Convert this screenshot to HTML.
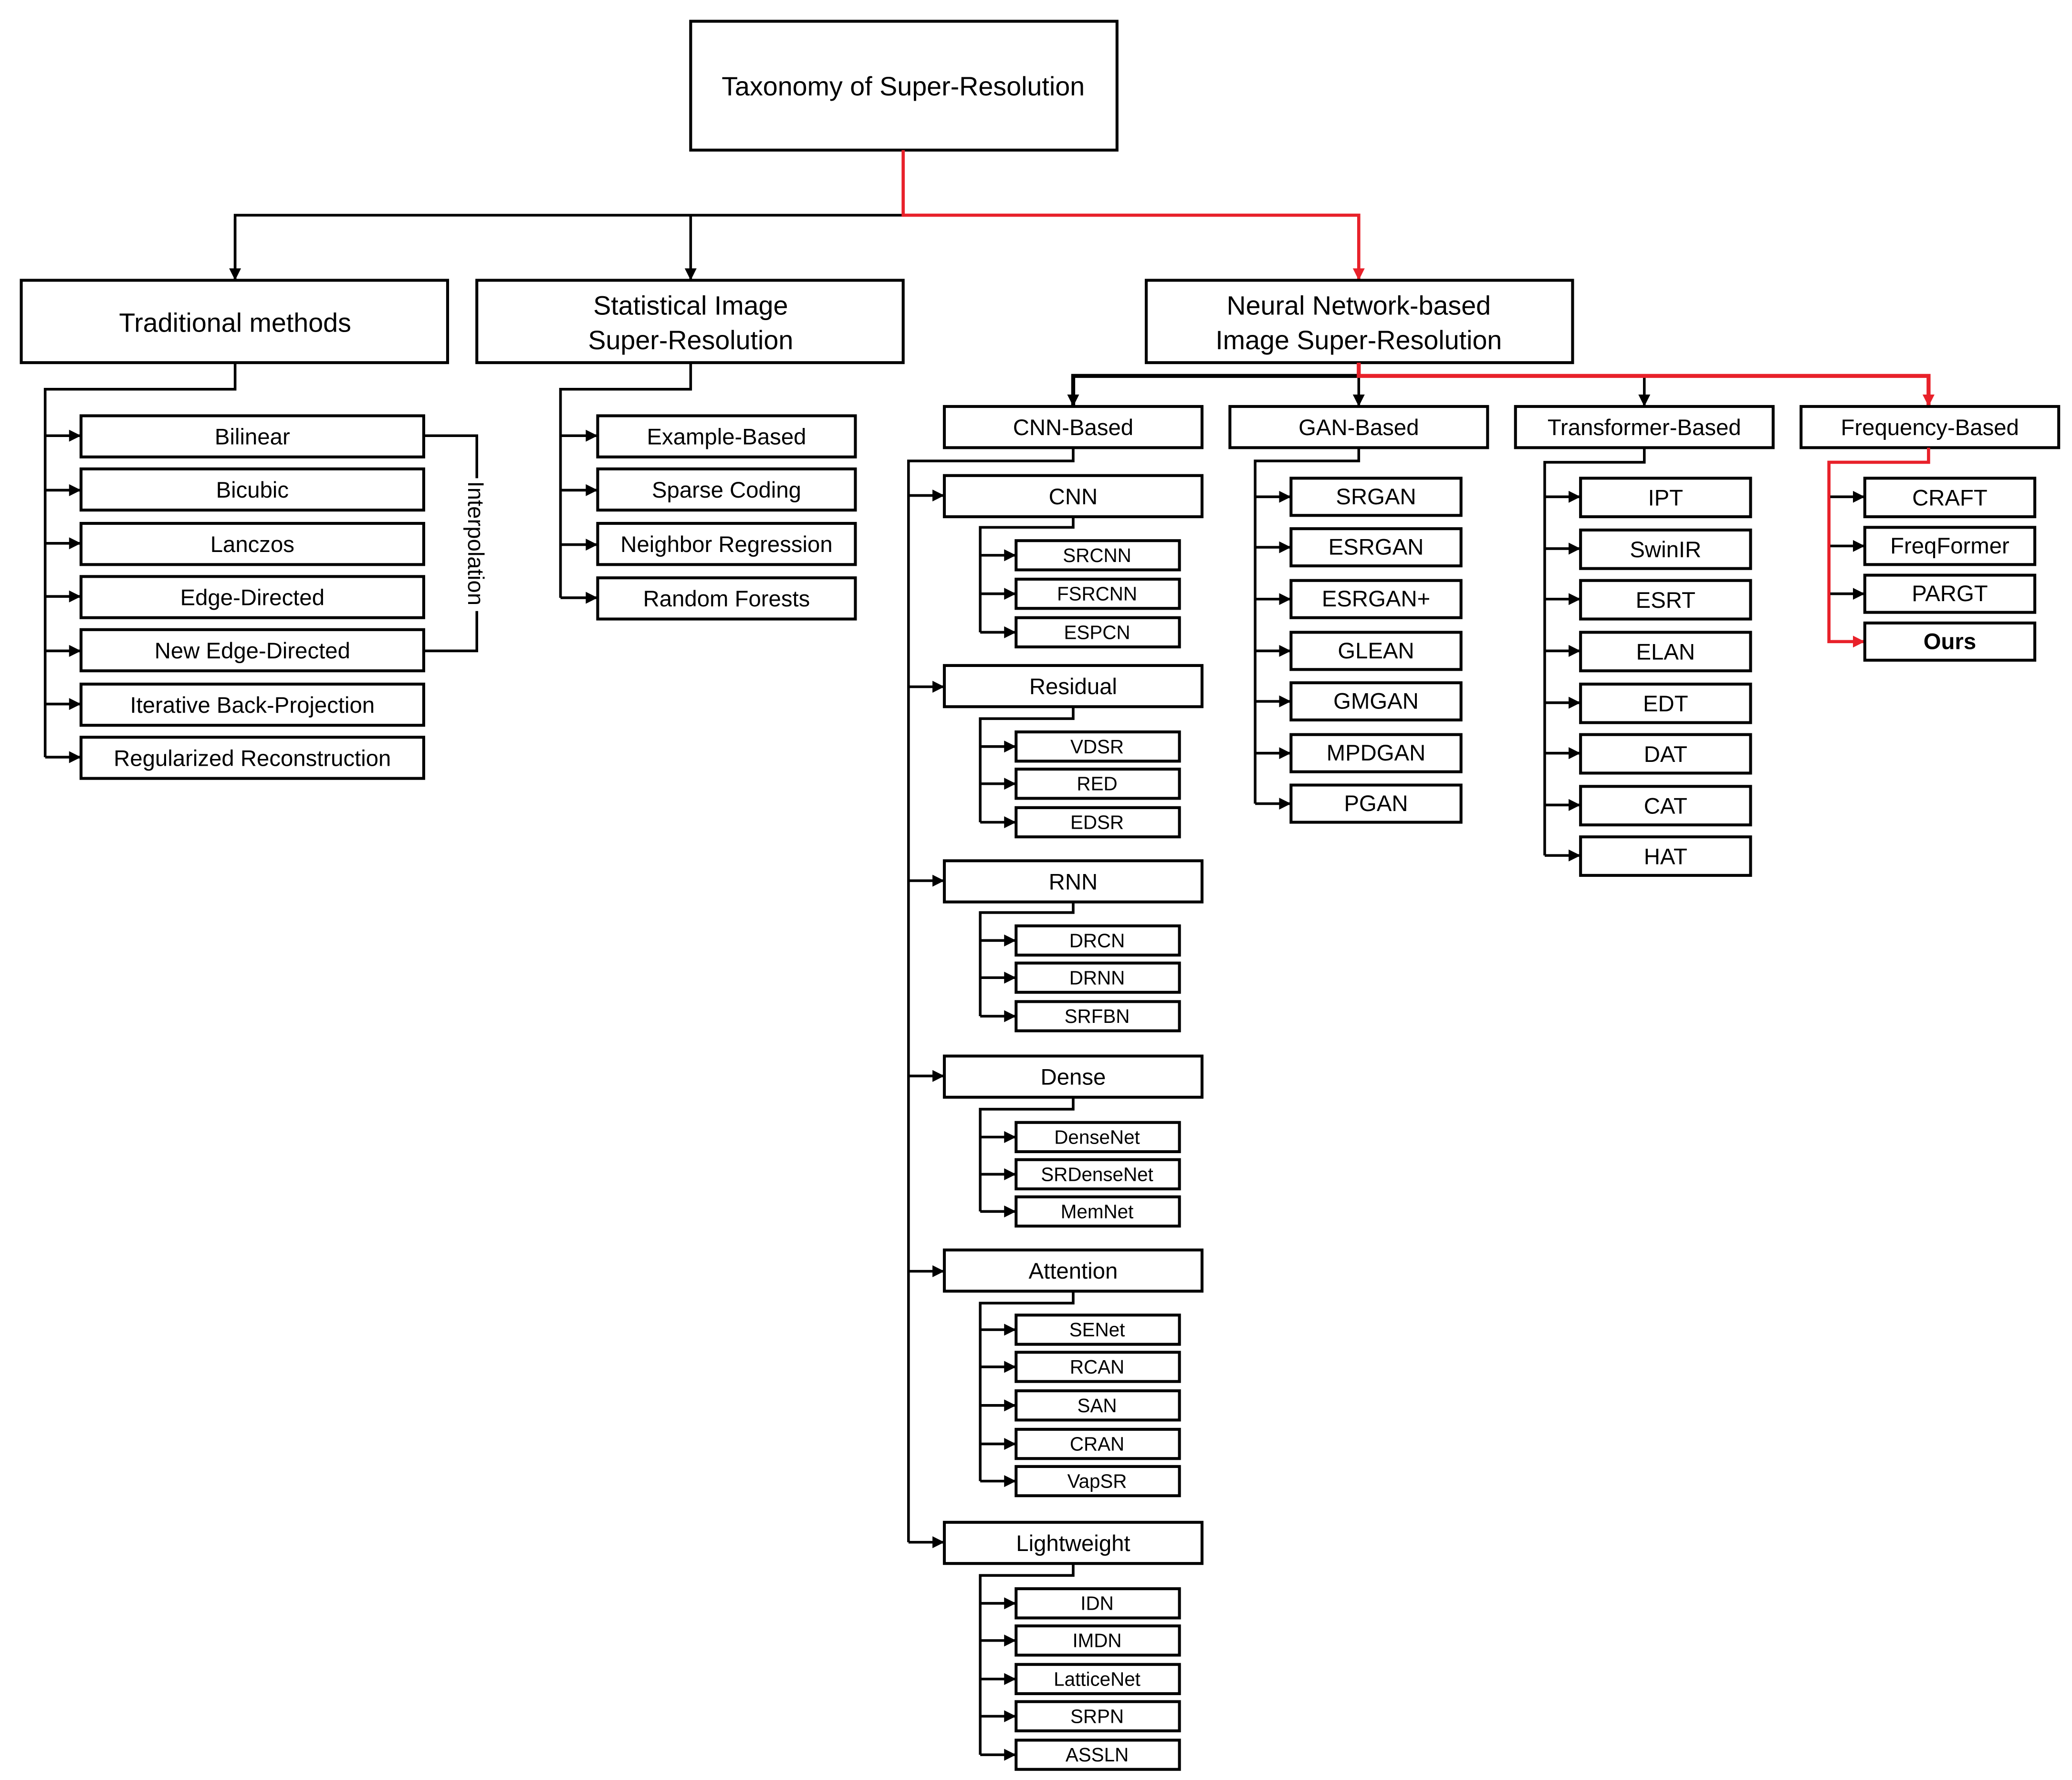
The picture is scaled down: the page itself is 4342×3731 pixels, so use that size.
<!DOCTYPE html>
<html><head><meta charset="utf-8"><style>
html,body{margin:0;padding:0;background:#fff}
svg{display:block}
text{font-family:"Liberation Sans",Arial,sans-serif;fill:#000;text-anchor:middle;dominant-baseline:central}
rect{fill:#fff;stroke:#000;stroke-width:2.2}
.l{fill:none;stroke:#000;stroke-width:2}
.r{fill:none;stroke:#e8212a;stroke-width:2.4}
.f20{font-size:20px}.f17{font-size:17px}.f14{font-size:14.5px}
</style></head><body>
<svg width="4342" height="3731" viewBox="0 0 1560 1340" preserveAspectRatio="none" xmlns="http://www.w3.org/2000/svg">
<defs>
<marker id="a" viewBox="0 0 10 10" refX="10" refY="5" markerWidth="9" markerHeight="9" markerUnits="userSpaceOnUse" orient="auto"><path d="M0,0L10,5L0,10z" fill="#000"/></marker>
<marker id="b" viewBox="0 0 10 10" refX="10" refY="5" markerWidth="9" markerHeight="9" markerUnits="userSpaceOnUse" orient="auto"><path d="M0,0L10,5L0,10z" fill="#e8212a"/></marker>
</defs>

<!-- top level -->
<rect x="520" y="16" width="321" height="97"/>
<text x="680" y="65" class="f20">Taxonomy of Super-Resolution</text>
<path class="l" d="M177,211V162H680"/>
<path class="l" d="M520,162V211" marker-end="url(#a)"/>
<path class="l" d="M177,165V211" marker-end="url(#a)"/>
<path class="r" d="M680,113V162H1023V211" marker-end="url(#b)"/>

<rect x="16" y="211" width="321" height="62"/>
<text x="177" y="243" class="f20">Traditional methods</text>
<rect x="359" y="211" width="321" height="62"/>
<text x="520" y="230" class="f20">Statistical Image</text>
<text x="520" y="256" class="f20">Super-Resolution</text>
<rect x="863" y="211" width="321" height="62"/>
<text x="1023" y="230" class="f20">Neural Network-based</text>
<text x="1023" y="256" class="f20">Image Super-Resolution</text>

<!-- traditional -->
<path class="l" d="M177,273V293H34V570"/>
<path class="l" d="M34,328H61" marker-end="url(#a)"/>
<path class="l" d="M34,369H61" marker-end="url(#a)"/>
<path class="l" d="M34,409H61" marker-end="url(#a)"/>
<path class="l" d="M34,449H61" marker-end="url(#a)"/>
<path class="l" d="M34,490H61" marker-end="url(#a)"/>
<path class="l" d="M34,530H61" marker-end="url(#a)"/>
<path class="l" d="M34,570H61" marker-end="url(#a)"/>
<path class="l" d="M319,328H359V490H319"/>
<rect x="61" y="313" width="258" height="31"/><text x="190" y="329" class="f17">Bilinear</text>
<rect x="61" y="353" width="258" height="31"/><text x="190" y="369" class="f17">Bicubic</text>
<rect x="61" y="394" width="258" height="31"/><text x="190" y="410" class="f17">Lanczos</text>
<rect x="61" y="434" width="258" height="31"/><text x="190" y="450" class="f17">Edge-Directed</text>
<rect x="61" y="474" width="258" height="31"/><text x="190" y="490" class="f17">New Edge-Directed</text>
<rect x="61" y="515" width="258" height="31"/><text x="190" y="531" class="f17">Iterative Back-Projection</text>
<rect x="61" y="555" width="258" height="31"/><text x="190" y="571" class="f17">Regularized Reconstruction</text>
<rect x="350" y="360" width="18" height="100" style="stroke:none"/>
<text x="358" y="409" class="f17" transform="rotate(90 358 409)">Interpolation</text>

<!-- statistical -->
<path class="l" d="M520,273V293H422V450"/>
<path class="l" d="M422,328H450" marker-end="url(#a)"/>
<path class="l" d="M422,369H450" marker-end="url(#a)"/>
<path class="l" d="M422,410H450" marker-end="url(#a)"/>
<path class="l" d="M422,450H450" marker-end="url(#a)"/>
<rect x="450" y="313" width="194" height="31"/><text x="547" y="329" class="f17">Example-Based</text>
<rect x="450" y="353" width="194" height="31"/><text x="547" y="369" class="f17">Sparse Coding</text>
<rect x="450" y="394" width="194" height="31"/><text x="547" y="410" class="f17">Neighbor Regression</text>
<rect x="450" y="435" width="194" height="31"/><text x="547" y="451" class="f17">Random Forests</text>

<!-- NN level 2 -->
<path class="l" style="stroke-width:3" d="M808,306V283H1023"/>
<path class="l" d="M808,290V306" marker-end="url(#a)"/>
<path class="l" d="M1023,283V306" marker-end="url(#a)"/>
<path class="l" d="M1238,283V306" marker-end="url(#a)"/>
<path class="r" style="stroke-width:3" d="M1023,273V283H1452V306" marker-end="url(#b)"/>
<rect x="711" y="306" width="194" height="31"/><text x="808" y="322" class="f17">CNN-Based</text>
<rect x="926" y="306" width="194" height="31"/><text x="1023" y="322" class="f17">GAN-Based</text>
<rect x="1141" y="306" width="194" height="31"/><text x="1238" y="322" class="f17">Transformer-Based</text>
<rect x="1356" y="306" width="194" height="31"/><text x="1453" y="322" class="f17">Frequency-Based</text>

<!-- CNN based -->
<path class="l" d="M808,337V347H684V1161"/>
<path class="l" d="M684,373H711" marker-end="url(#a)"/>
<path class="l" d="M684,517H711" marker-end="url(#a)"/>
<path class="l" d="M684,663H711" marker-end="url(#a)"/>
<path class="l" d="M684,810H711" marker-end="url(#a)"/>
<path class="l" d="M684,957H711" marker-end="url(#a)"/>
<path class="l" d="M684,1161H711" marker-end="url(#a)"/>
<rect x="711" y="358" width="194" height="31"/><text x="808" y="374" class="f17">CNN</text>
<rect x="711" y="501" width="194" height="31"/><text x="808" y="517" class="f17">Residual</text>
<rect x="711" y="648" width="194" height="31"/><text x="808" y="664" class="f17">RNN</text>
<rect x="711" y="795" width="194" height="31"/><text x="808" y="811" class="f17">Dense</text>
<rect x="711" y="941" width="194" height="31"/><text x="808" y="957" class="f17">Attention</text>
<rect x="711" y="1146" width="194" height="31"/><text x="808" y="1162" class="f17">Lightweight</text>

<!-- CNN children -->
<path class="l" d="M808,389V397H738V476"/>
<path class="l" d="M738,418H765" marker-end="url(#a)"/><path class="l" d="M738,447H765" marker-end="url(#a)"/><path class="l" d="M738,476H765" marker-end="url(#a)"/>
<rect x="765" y="407" width="123" height="22"/><text x="826" y="418" class="f14">SRCNN</text>
<rect x="765" y="436" width="123" height="22"/><text x="826" y="447" class="f14">FSRCNN</text>
<rect x="765" y="465" width="123" height="22"/><text x="826" y="476" class="f14">ESPCN</text>

<path class="l" d="M808,532V541H738V619"/>
<path class="l" d="M738,562H765" marker-end="url(#a)"/><path class="l" d="M738,590H765" marker-end="url(#a)"/><path class="l" d="M738,619H765" marker-end="url(#a)"/>
<rect x="765" y="551" width="123" height="22"/><text x="826" y="562" class="f14">VDSR</text>
<rect x="765" y="579" width="123" height="22"/><text x="826" y="590" class="f14">RED</text>
<rect x="765" y="608" width="123" height="22"/><text x="826" y="619" class="f14">EDSR</text>

<path class="l" d="M808,679V687H738V765"/>
<path class="l" d="M738,708H765" marker-end="url(#a)"/><path class="l" d="M738,736H765" marker-end="url(#a)"/><path class="l" d="M738,765H765" marker-end="url(#a)"/>
<rect x="765" y="697" width="123" height="22"/><text x="826" y="708" class="f14">DRCN</text>
<rect x="765" y="725" width="123" height="22"/><text x="826" y="736" class="f14">DRNN</text>
<rect x="765" y="754" width="123" height="22"/><text x="826" y="765" class="f14">SRFBN</text>

<path class="l" d="M808,826V835H738V912"/>
<path class="l" d="M738,856H765" marker-end="url(#a)"/><path class="l" d="M738,884H765" marker-end="url(#a)"/><path class="l" d="M738,912H765" marker-end="url(#a)"/>
<rect x="765" y="845" width="123" height="22"/><text x="826" y="856" class="f14">DenseNet</text>
<rect x="765" y="873" width="123" height="22"/><text x="826" y="884" class="f14">SRDenseNet</text>
<rect x="765" y="901" width="123" height="22"/><text x="826" y="912" class="f14">MemNet</text>

<path class="l" d="M808,972V981H738V1115"/>
<path class="l" d="M738,1001H765" marker-end="url(#a)"/><path class="l" d="M738,1029H765" marker-end="url(#a)"/><path class="l" d="M738,1058H765" marker-end="url(#a)"/><path class="l" d="M738,1087H765" marker-end="url(#a)"/><path class="l" d="M738,1115H765" marker-end="url(#a)"/>
<rect x="765" y="990" width="123" height="22"/><text x="826" y="1001" class="f14">SENet</text>
<rect x="765" y="1018" width="123" height="22"/><text x="826" y="1029" class="f14">RCAN</text>
<rect x="765" y="1047" width="123" height="22"/><text x="826" y="1058" class="f14">SAN</text>
<rect x="765" y="1076" width="123" height="22"/><text x="826" y="1087" class="f14">CRAN</text>
<rect x="765" y="1104" width="123" height="22"/><text x="826" y="1115" class="f14">VapSR</text>

<path class="l" d="M808,1177V1186H738V1321"/>
<path class="l" d="M738,1207H765" marker-end="url(#a)"/><path class="l" d="M738,1235H765" marker-end="url(#a)"/><path class="l" d="M738,1264H765" marker-end="url(#a)"/><path class="l" d="M738,1292H765" marker-end="url(#a)"/><path class="l" d="M738,1321H765" marker-end="url(#a)"/>
<rect x="765" y="1196" width="123" height="22"/><text x="826" y="1207" class="f14">IDN</text>
<rect x="765" y="1224" width="123" height="22"/><text x="826" y="1235" class="f14">IMDN</text>
<rect x="765" y="1253" width="123" height="22"/><text x="826" y="1264" class="f14">LatticeNet</text>
<rect x="765" y="1281" width="123" height="22"/><text x="826" y="1292" class="f14">SRPN</text>
<rect x="765" y="1310" width="123" height="22"/><text x="826" y="1321" class="f14">ASSLN</text>

<!-- GAN -->
<path class="l" d="M1023,337V347H945V605"/>
<path class="l" d="M945,374H972" marker-end="url(#a)"/><path class="l" d="M945,412H972" marker-end="url(#a)"/><path class="l" d="M945,451H972" marker-end="url(#a)"/><path class="l" d="M945,490H972" marker-end="url(#a)"/><path class="l" d="M945,528H972" marker-end="url(#a)"/><path class="l" d="M945,567H972" marker-end="url(#a)"/><path class="l" d="M945,605H972" marker-end="url(#a)"/>
<rect x="972" y="360" width="128" height="28"/><text x="1036" y="374" class="f17">SRGAN</text>
<rect x="972" y="398" width="128" height="28"/><text x="1036" y="412" class="f17">ESRGAN</text>
<rect x="972" y="437" width="128" height="28"/><text x="1036" y="451" class="f17">ESRGAN+</text>
<rect x="972" y="476" width="128" height="28"/><text x="1036" y="490" class="f17">GLEAN</text>
<rect x="972" y="514" width="128" height="28"/><text x="1036" y="528" class="f17">GMGAN</text>
<rect x="972" y="553" width="128" height="28"/><text x="1036" y="567" class="f17">MPDGAN</text>
<rect x="972" y="591" width="128" height="28"/><text x="1036" y="605" class="f17">PGAN</text>

<!-- Transformer -->
<path class="l" d="M1238,337V348H1163V644"/>
<path class="l" d="M1163,374H1190" marker-end="url(#a)"/><path class="l" d="M1163,413H1190" marker-end="url(#a)"/><path class="l" d="M1163,451H1190" marker-end="url(#a)"/><path class="l" d="M1163,490H1190" marker-end="url(#a)"/><path class="l" d="M1163,529H1190" marker-end="url(#a)"/><path class="l" d="M1163,567H1190" marker-end="url(#a)"/><path class="l" d="M1163,606H1190" marker-end="url(#a)"/><path class="l" d="M1163,644H1190" marker-end="url(#a)"/>
<rect x="1190" y="360" width="128" height="29"/><text x="1254" y="375" class="f17">IPT</text>
<rect x="1190" y="399" width="128" height="29"/><text x="1254" y="414" class="f17">SwinIR</text>
<rect x="1190" y="437" width="128" height="29"/><text x="1254" y="452" class="f17">ESRT</text>
<rect x="1190" y="476" width="128" height="29"/><text x="1254" y="491" class="f17">ELAN</text>
<rect x="1190" y="515" width="128" height="29"/><text x="1254" y="530" class="f17">EDT</text>
<rect x="1190" y="553" width="128" height="29"/><text x="1254" y="568" class="f17">DAT</text>
<rect x="1190" y="592" width="128" height="29"/><text x="1254" y="607" class="f17">CAT</text>
<rect x="1190" y="630" width="128" height="29"/><text x="1254" y="645" class="f17">HAT</text>

<!-- Frequency -->
<path class="r" d="M1452,337V348H1377V483H1404" marker-end="url(#b)"/>
<path class="l" d="M1378,374H1404" marker-end="url(#a)"/><path class="l" d="M1378,411H1404" marker-end="url(#a)"/><path class="l" d="M1378,447H1404" marker-end="url(#a)"/>
<rect x="1404" y="360" width="128" height="29"/><text x="1468" y="375" class="f17">CRAFT</text>
<rect x="1404" y="397" width="128" height="28"/><text x="1468" y="411" class="f17">FreqFormer</text>
<rect x="1404" y="433" width="128" height="28"/><text x="1468" y="447" class="f17">PARGT</text>
<rect x="1404" y="469" width="128" height="28"/><text x="1468" y="483" class="f17" font-weight="bold">Ours</text>
</svg>
</body></html>
